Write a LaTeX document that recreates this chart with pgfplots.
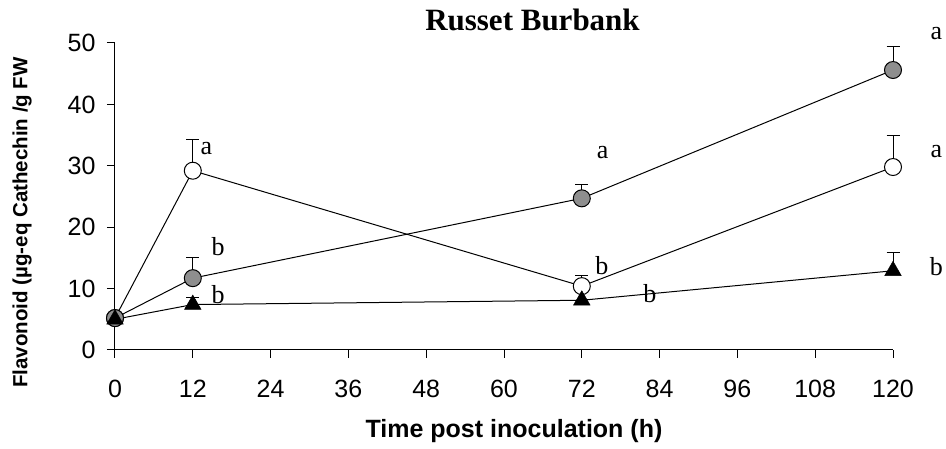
\documentclass[border=0pt]{standalone}
\usepackage{fontspec}
\setmainfont{Liberation Sans}
\newfontfamily\seriffont{Liberation Serif}
\usepackage{pgfplots}
\pgfplotsset{compat=1.18}
\definecolor{markgrey}{RGB}{142,142,142}
\begin{document}
\begin{tikzpicture}
\useasboundingbox (-115pt,-99pt) rectangle (831pt,350pt);
\begin{axis}[
  scale only axis,
  width=778pt, height=307pt,
  xmin=0, xmax=120, ymin=0, ymax=50,
  axis x line*=bottom, axis y line*=left,
  axis line style={line width=1pt, black},
  xtick={0,12,...,120}, ytick={0,10,...,50},
  tick align=outside,
  major tick length=8pt,
  tick style={line width=1pt, black},
  /pgf/number format/assume math mode=true,
  ticklabel style={font=\fontsize{25}{25}\selectfont},
  xticklabel style={yshift=-18.5pt},
  yticklabel style={xshift=-8pt},
  clip=false,
]
% error bars (upper only), drawn first so the marks cover their lower part
\addplot[draw=none, mark=none,
  error bars/.cd, y dir=plus, y explicit,
  error bar style={line width=1pt, draw=black},
  error mark=|,
  error mark options={line width=1pt, draw=black, mark size=6.5pt}]
  coordinates {(12,29.2) +- (0,5.1) (72,10.4) +- (0,1.7) (120,29.8) +- (0,5.1)
               (12,11.7) +- (0,3.4) (72,24.7) +- (0,2.3) (120,45.6) +- (0,3.8)
               (12,7.4) +- (0,1.2) (120,12.9) +- (0,2.9)};
% open circles
\addplot[black, line width=1pt, mark=*, mark size=8.5pt,
  mark options={fill=white, draw=black, line width=1pt}]
  coordinates {(0,5.2) (12,29.2) (72,10.4) (120,29.8)};
% grey circles
\addplot[black, line width=1pt, mark=*, mark size=8.5pt,
  mark options={fill=markgrey, draw=black, line width=1pt}]
  coordinates {(0,5.2) (12,11.7) (72,24.7) (120,45.6)};
% black triangles
\addplot[black, line width=1pt, mark=triangle*, mark size=9.5pt,
  mark options={fill=black, draw=black, line width=0.5pt}]
  coordinates {(0,5.0) (12,7.4) (72,8.1) (120,12.9)};
% significance letters
\begin{scope}[every node/.style={font=\seriffont\fontsize{26}{26}\selectfont, inner sep=0pt}]
\node at (axis cs:14.1,32.8) {a};
\node at (axis cs:15.9,16.8) {b};
\node at (axis cs:15.9,9.0) {b};
\node at (axis cs:75.2,32.2) {a};
\node at (axis cs:75.1,13.8) {b};
\node at (axis cs:82.5,9.2) {b};
\node at (axis cs:126.7,51.6) {a};
\node at (axis cs:126.7,32.3) {a};
\node at (axis cs:126.7,13.6) {b};
\end{scope}
\end{axis}
\node[font=\seriffont\bfseries\fontsize{31}{31}\selectfont, inner sep=0pt] at (417.5pt,330pt) {Russet Burbank};
\node[font=\bfseries\fontsize{25}{25}\selectfont, inner sep=0pt] at (399pt,-81pt) {Time post inoculation (h)};
\node[font=\bfseries\fontsize{20.5}{20.5}\selectfont, inner sep=0pt, rotate=90] at (-93pt,127.5pt) {Flavonoid (µg-eq Cathechin /g FW};
\end{tikzpicture}
\end{document}
